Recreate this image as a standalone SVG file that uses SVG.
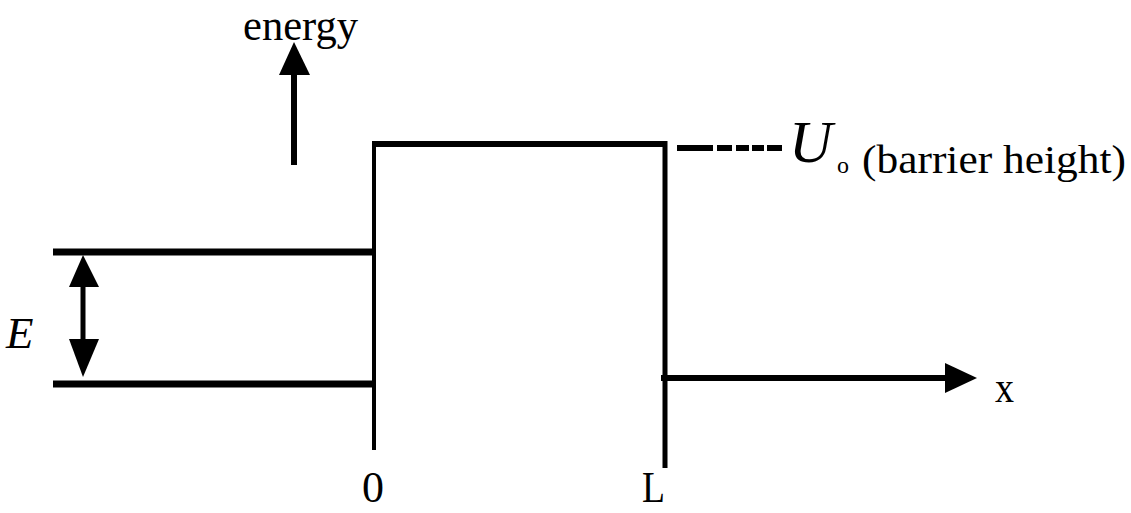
<svg xmlns="http://www.w3.org/2000/svg" width="1131" height="513" viewBox="0 0 1131 513">
<style>
.ln{stroke:#000;fill:none}
.hd{fill:#000;stroke:none}
.t{font-family:"Liberation Serif","Times New Roman",serif;fill:#000}
.ti{font-family:"Liberation Serif","Times New Roman",serif;font-style:italic;fill:#000}
</style>
<rect width="1131" height="513" fill="#fff"/>
<g id="connectors">
  <g id="energy-axis">
    <line class="ln" x1="294" y1="165" x2="294" y2="70" stroke-width="6"/>
    <polygon class="hd" points="294,42 279,75 310,75"/>
  </g>
  <g id="x-axis">
    <line class="ln" x1="661" y1="378" x2="948" y2="378" stroke-width="6"/>
    <polygon class="hd" points="977,378 945,363 945,393"/>
  </g>
  <g id="E-arrow">
    <line class="ln" x1="83" y1="284" x2="83" y2="342" stroke-width="5"/>
    <polygon class="hd" points="83,255 69,287 99,287"/>
    <polygon class="hd" points="83,377 69,339 99,339"/>
  </g>
  <g id="U-dash">
    <path class="ln" stroke-width="6" d="M677,148H713M717,148H732M736,148H749M752,148H764M767,148H782"/>
  </g>
</g>
<g id="barrier">
  <line class="ln" x1="374" y1="141" x2="374" y2="450" stroke-width="4"/>
  <line class="ln" x1="372" y1="144" x2="667" y2="144" stroke-width="6"/>
  <line class="ln" x1="665" y1="141" x2="665" y2="468" stroke-width="5"/>
</g>
<g id="energy-levels">
  <line class="ln" x1="53" y1="252" x2="374" y2="252" stroke-width="7"/>
  <line class="ln" x1="53" y1="384" x2="374" y2="384" stroke-width="7"/>
</g>
<g id="labels">
  <text class="t" x="243" y="40" font-size="44" textLength="115" lengthAdjust="spacingAndGlyphs">energy</text>
  <text class="ti" x="789" y="162" font-size="60">U</text>
  <text class="t" x="837" y="173" font-size="24">o</text>
  <text class="t" x="862" y="173" font-size="41" textLength="264" lengthAdjust="spacingAndGlyphs">(barrier height)</text>
  <text class="ti" x="6" y="348" font-size="45">E</text>
  <text class="t" x="995" y="402" font-size="44" textLength="19" lengthAdjust="spacingAndGlyphs">x</text>
  <text class="t" x="362" y="502" font-size="44">0</text>
  <text class="t" x="642" y="502" font-size="44" textLength="23" lengthAdjust="spacingAndGlyphs">L</text>
</g>
</svg>
